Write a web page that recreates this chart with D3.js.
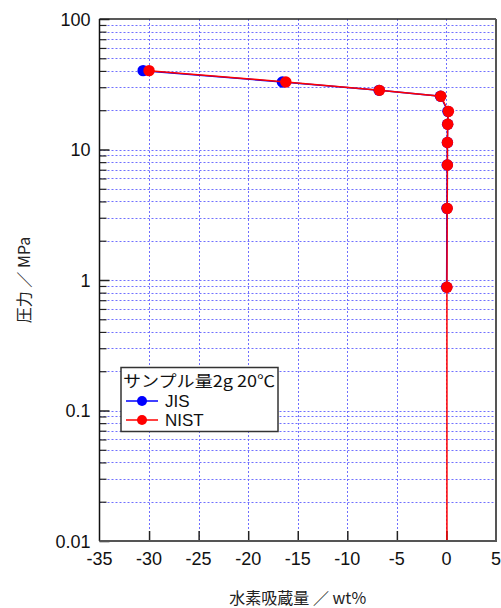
<!DOCTYPE html>
<html>
<head>
<meta charset="utf-8">
<script src="https://cdn.jsdelivr.net/npm/d3@7"></script>
<style>
  body { margin: 0; background: #fff; }
  text { font-family: "Liberation Sans", Arial, sans-serif; }
  .jp { font-family: "Noto Sans CJK JP", sans-serif; }
</style>
</head>
<body>
<svg id="chart"></svg>
<script>
// data
var jisX = [-30.6, -16.55, -6.8, -0.6, 0.15, 0.12, 0.1, 0.08, 0.05, 0.02];
var jisP = [40.2, 32.9, 28.4, 25.6, 19.6, 15.6, 11.3, 7.6, 3.54, 0.88];
var nistX = [-30.0, -16.2, -6.76, -0.57, 0.2, 0.13, 0.1, 0.1, 0.08, 0.05, 0.05];
var nistP = [40.2, 32.9, 28.4, 25.6, 19.6, 15.6, 11.3, 7.6, 3.54, 0.88, 0.001];
var xTicks = [-35, -30, -25, -20, -15, -10, -5, 0, 5];
var yTicks = [0.01, 0.1, 1, 10, 100];

var width = 501, height = 608;
var plotLeft = 99.5, plotRight = 496, plotTop = 19, plotBottom = 541;

var svg = d3.select("#chart").attr("width", width).attr("height", height);

var x = d3.scaleLinear().domain([-35, 5]).range([plotLeft, plotRight]);
var y = d3.scaleLog().domain([0.01, 100]).range([plotBottom, plotTop]);

// minor log positions
var minors = [];
for (var d = 0.01; d < 100; d *= 10) {
  for (var m = 2; m <= 9; m++) minors.push(+(d * m).toPrecision(3));
}

// grid
var grid = svg.append("g")
  .attr("stroke", "#7070ff")
  .attr("stroke-width", 1)
  .attr("stroke-dasharray", "2,2");

grid.selectAll(".hg")
  .data(minors.concat(yTicks.slice(1, -1)))
  .enter().append("line")
  .attr("x1", plotLeft).attr("x2", plotRight)
  .attr("y1", function(d) { return Math.round(y(d)) + 0.5; })
  .attr("y2", function(d) { return Math.round(y(d)) + 0.5; });

grid.selectAll(".vg")
  .data(xTicks.slice(1, -1))
  .enter().append("line")
  .attr("y1", plotTop).attr("y2", plotBottom)
  .attr("x1", function(d) { return Math.round(x(d)) + 0.5; })
  .attr("x2", function(d) { return Math.round(x(d)) + 0.5; });

// y axis, ticks inward
svg.append("g")
  .attr("transform", "translate(" + plotLeft + ",0)")
  .call(d3.axisRight(y).tickValues(yTicks).tickSize(10).tickFormat(""))
  .call(function(g) {
    g.select(".domain").remove();
    g.selectAll("line").attr("stroke", "#222").attr("stroke-width", 1.5);
  });

svg.append("g")
  .attr("transform", "translate(" + plotLeft + ",0)")
  .call(d3.axisRight(y).tickValues(minors).tickSize(7).tickFormat(""))
  .call(function(g) {
    g.select(".domain").remove();
    g.selectAll("line").attr("stroke", "#222").attr("stroke-width", 1.2);
  });

svg.append("g")
  .selectAll("text")
  .data(yTicks)
  .enter().append("text")
  .attr("x", plotLeft - 9)
  .attr("y", function(d) { return y(d) + 6.5; })
  .attr("text-anchor", "end")
  .attr("font-size", "18px")
  .attr("fill", "#111")
  .text(function(d) { return d >= 1 ? d3.format("d")(d) : String(d); });

// x axis, ticks inward
svg.append("g")
  .attr("transform", "translate(0," + plotBottom + ")")
  .call(d3.axisTop(x).tickValues(xTicks.slice(1, -1)).tickSize(10).tickFormat(""))
  .call(function(g) {
    g.select(".domain").remove();
    g.selectAll("line").attr("stroke", "#222").attr("stroke-width", 1.5);
  });

svg.append("g")
  .selectAll("text")
  .data(xTicks)
  .enter().append("text")
  .attr("x", function(d) { return x(d); })
  .attr("y", plotBottom + 23.5)
  .attr("text-anchor", "middle")
  .attr("font-size", "18px")
  .attr("fill", "#111")
  .text(function(d) { return d; });

// data lines
svg.append("clipPath").attr("id", "plotclip")
  .append("rect").attr("x", plotLeft).attr("y", plotTop)
  .attr("width", plotRight - plotLeft).attr("height", plotBottom - plotTop);

var jis = jisX.map(function(v, i) { return {x: v, p: jisP[i]}; });
var nist = nistX.map(function(v, i) { return {x: v, p: nistP[i]}; });

var line = d3.line()
  .x(function(d) { return x(d.x); })
  .y(function(d) { return y(d.p); });

var plot = svg.append("g").attr("clip-path", "url(#plotclip)");

plot.append("path").datum(jis)
  .attr("fill", "none").attr("stroke", "#0000ff").attr("stroke-width", 1.5)
  .attr("d", line);
plot.selectAll(".jisDot").data(jis).enter().append("circle")
  .attr("cx", function(d) { return x(d.x); })
  .attr("cy", function(d) { return y(d.p); })
  .attr("r", 5.7).attr("fill", "#0000ff");

plot.append("path").datum(nist)
  .attr("fill", "none").attr("stroke", "#ff0000").attr("stroke-width", 1.5)
  .attr("d", line);
plot.selectAll(".nistDot").data(nist).enter().append("circle")
  .attr("cx", function(d) { return x(d.x); })
  .attr("cy", function(d) { return y(d.p); })
  .attr("r", 5.7).attr("fill", "#ff0000");

// frame
svg.append("line").attr("x1", plotLeft).attr("x2", plotLeft).attr("y1", plotTop).attr("y2", plotBottom)
  .attr("stroke", "#111").attr("stroke-width", 1.5);
svg.append("line").attr("x1", plotLeft).attr("x2", plotRight).attr("y1", plotTop).attr("y2", plotTop)
  .attr("stroke", "#222").attr("stroke-width", 1.5);
svg.append("line").attr("x1", plotRight).attr("x2", plotRight).attr("y1", plotTop).attr("y2", plotBottom + 1)
  .attr("stroke", "#555").attr("stroke-width", 2);
svg.append("line").attr("x1", plotLeft).attr("x2", plotRight).attr("y1", plotBottom).attr("y2", plotBottom)
  .attr("stroke", "#555").attr("stroke-width", 2);

// legend
var legend = svg.append("g");
legend.append("rect")
  .attr("x", 121).attr("y", 367.5).attr("width", 157).attr("height", 64)
  .attr("fill", "#fff").attr("stroke", "#333").attr("stroke-width", 1.5);
legend.append("text").attr("class", "jp")
  .attr("x", 123).attr("y", 387)
  .attr("font-size", "16px").attr("fill", "#111")
  .attr("textLength", 152).attr("lengthAdjust", "spacingAndGlyphs")
  .text("サンプル量2g 20℃");

var legendItems = [{name: "JIS", color: "#0000ff"}, {name: "NIST", color: "#ff0000"}];
legendItems.forEach(function(item, i) {
  var cy = 401 + i * 19;
  legend.append("line").attr("x1", 126).attr("x2", 158).attr("y1", cy).attr("y2", cy)
    .attr("stroke", item.color).attr("stroke-width", 1.5);
  legend.append("circle").attr("cx", 142).attr("cy", cy).attr("r", 5).attr("fill", item.color);
  legend.append("text").attr("x", 165).attr("y", cy + 6)
    .attr("font-size", "17px").attr("fill", "#111").text(item.name);
});

// axis titles
svg.append("text").attr("class", "jp")
  .attr("x", (plotLeft + plotRight) / 2).attr("y", 604)
  .attr("text-anchor", "middle").attr("font-size", "16px").attr("fill", "#222")
  .text("水素吸蔵量 ／ wt%");

svg.append("text").attr("class", "jp")
  .attr("transform", "translate(30," + ((plotTop + plotBottom) / 2) + ") rotate(-90)")
  .attr("text-anchor", "middle").attr("font-size", "16px").attr("fill", "#222")
  .text("圧力 ／ MPa");
</script>
</body>
</html>
